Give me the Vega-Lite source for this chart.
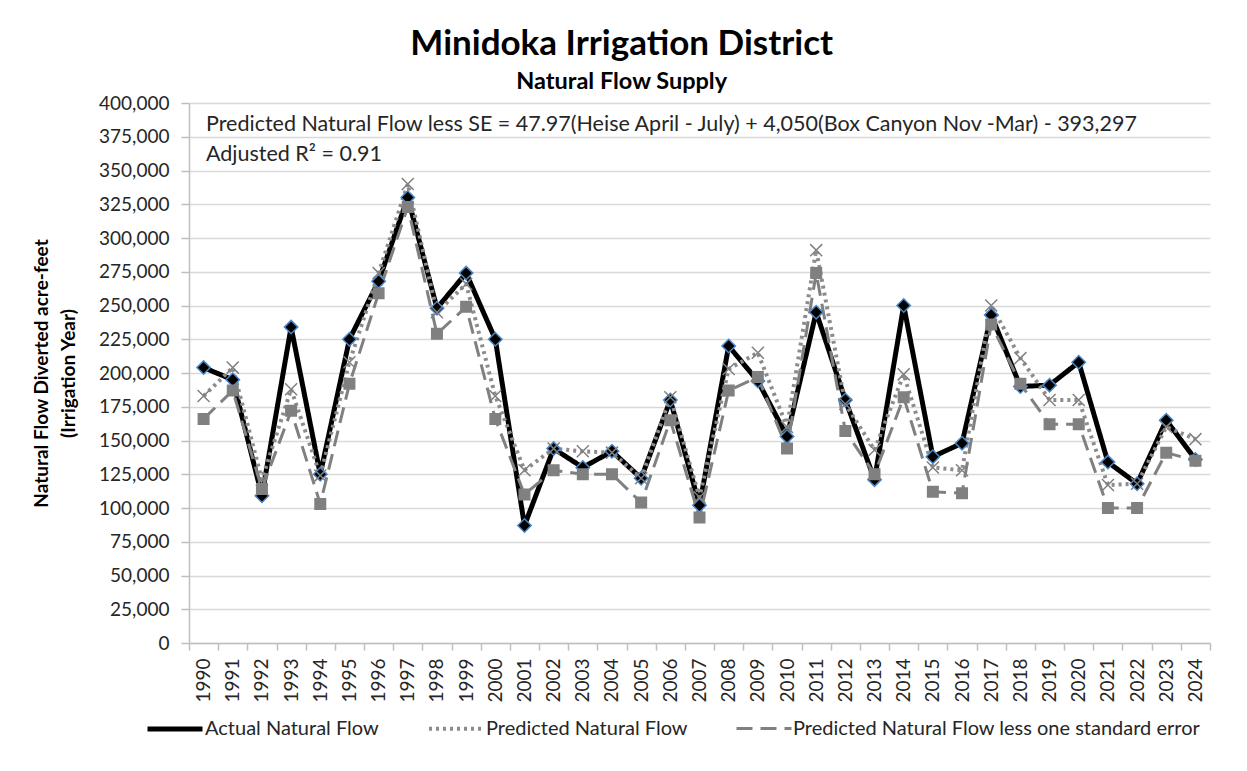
{
  "$schema": "https://vega.github.io/schema/vega-lite/v6.json",
  "width": 1247,
  "height": 771,
  "autosize": {"type": "fit", "contains": "padding"},
  "padding": {"left": 32, "top": 26, "right": 36, "bottom": 68},
  "background": "white",
  "config": {
    "font": "Lato",
    "view": {"stroke": null},
    "axis": {"labelFont": "Lato", "titleFont": "Lato"},
    "legend": {"labelFont": "Lato"}
  },
  "title": {
    "text": "Minidoka Irrigation District",
    "subtitle": "Natural Flow Supply",
    "anchor": "middle",
    "frame": "bounds",
    "font": "Lato",
    "fontSize": 35,
    "fontWeight": "bold",
    "color": "#000000",
    "subtitleFont": "Lato",
    "subtitleFontSize": 23.5,
    "subtitleFontWeight": "bold",
    "subtitleColor": "#000000",
    "subtitlePadding": 8,
    "offset": 1
  },
  "datasets": {
    "flow": [
      {"year": 1990, "series": "Actual Natural Flow", "value": 204000},
      {"year": 1991, "series": "Actual Natural Flow", "value": 195000},
      {"year": 1992, "series": "Actual Natural Flow", "value": 109000},
      {"year": 1993, "series": "Actual Natural Flow", "value": 234000},
      {"year": 1994, "series": "Actual Natural Flow", "value": 125000},
      {"year": 1995, "series": "Actual Natural Flow", "value": 225000},
      {"year": 1996, "series": "Actual Natural Flow", "value": 268000},
      {"year": 1997, "series": "Actual Natural Flow", "value": 330000},
      {"year": 1998, "series": "Actual Natural Flow", "value": 248000},
      {"year": 1999, "series": "Actual Natural Flow", "value": 274000},
      {"year": 2000, "series": "Actual Natural Flow", "value": 225000},
      {"year": 2001, "series": "Actual Natural Flow", "value": 87000},
      {"year": 2002, "series": "Actual Natural Flow", "value": 144000},
      {"year": 2003, "series": "Actual Natural Flow", "value": 130000},
      {"year": 2004, "series": "Actual Natural Flow", "value": 142000},
      {"year": 2005, "series": "Actual Natural Flow", "value": 122000},
      {"year": 2006, "series": "Actual Natural Flow", "value": 180000},
      {"year": 2007, "series": "Actual Natural Flow", "value": 102000},
      {"year": 2008, "series": "Actual Natural Flow", "value": 220000},
      {"year": 2009, "series": "Actual Natural Flow", "value": 194000},
      {"year": 2010, "series": "Actual Natural Flow", "value": 153000},
      {"year": 2011, "series": "Actual Natural Flow", "value": 245000},
      {"year": 2012, "series": "Actual Natural Flow", "value": 180000},
      {"year": 2013, "series": "Actual Natural Flow", "value": 121000},
      {"year": 2014, "series": "Actual Natural Flow", "value": 250000},
      {"year": 2015, "series": "Actual Natural Flow", "value": 138000},
      {"year": 2016, "series": "Actual Natural Flow", "value": 148000},
      {"year": 2017, "series": "Actual Natural Flow", "value": 243000},
      {"year": 2018, "series": "Actual Natural Flow", "value": 190000},
      {"year": 2019, "series": "Actual Natural Flow", "value": 191000},
      {"year": 2020, "series": "Actual Natural Flow", "value": 208000},
      {"year": 2021, "series": "Actual Natural Flow", "value": 134000},
      {"year": 2022, "series": "Actual Natural Flow", "value": 118000},
      {"year": 2023, "series": "Actual Natural Flow", "value": 165000},
      {"year": 2024, "series": "Actual Natural Flow", "value": 136000},
      {"year": 1990, "series": "Predicted Natural Flow", "value": 183000},
      {"year": 1991, "series": "Predicted Natural Flow", "value": 204000},
      {"year": 1992, "series": "Predicted Natural Flow", "value": 121000},
      {"year": 1993, "series": "Predicted Natural Flow", "value": 188000},
      {"year": 1994, "series": "Predicted Natural Flow", "value": 124000},
      {"year": 1995, "series": "Predicted Natural Flow", "value": 208000},
      {"year": 1996, "series": "Predicted Natural Flow", "value": 274000},
      {"year": 1997, "series": "Predicted Natural Flow", "value": 340000},
      {"year": 1998, "series": "Predicted Natural Flow", "value": 245000},
      {"year": 1999, "series": "Predicted Natural Flow", "value": 266000},
      {"year": 2000, "series": "Predicted Natural Flow", "value": 183000},
      {"year": 2001, "series": "Predicted Natural Flow", "value": 128000},
      {"year": 2002, "series": "Predicted Natural Flow", "value": 144000},
      {"year": 2003, "series": "Predicted Natural Flow", "value": 142000},
      {"year": 2004, "series": "Predicted Natural Flow", "value": 141000},
      {"year": 2005, "series": "Predicted Natural Flow", "value": 122000},
      {"year": 2006, "series": "Predicted Natural Flow", "value": 182000},
      {"year": 2007, "series": "Predicted Natural Flow", "value": 108000},
      {"year": 2008, "series": "Predicted Natural Flow", "value": 203000},
      {"year": 2009, "series": "Predicted Natural Flow", "value": 215000},
      {"year": 2010, "series": "Predicted Natural Flow", "value": 160000},
      {"year": 2011, "series": "Predicted Natural Flow", "value": 291000},
      {"year": 2012, "series": "Predicted Natural Flow", "value": 177000},
      {"year": 2013, "series": "Predicted Natural Flow", "value": 143000},
      {"year": 2014, "series": "Predicted Natural Flow", "value": 199000},
      {"year": 2015, "series": "Predicted Natural Flow", "value": 130000},
      {"year": 2016, "series": "Predicted Natural Flow", "value": 128000},
      {"year": 2017, "series": "Predicted Natural Flow", "value": 250000},
      {"year": 2018, "series": "Predicted Natural Flow", "value": 211000},
      {"year": 2019, "series": "Predicted Natural Flow", "value": 180000},
      {"year": 2020, "series": "Predicted Natural Flow", "value": 180000},
      {"year": 2021, "series": "Predicted Natural Flow", "value": 117000},
      {"year": 2022, "series": "Predicted Natural Flow", "value": 118000},
      {"year": 2023, "series": "Predicted Natural Flow", "value": 160000},
      {"year": 2024, "series": "Predicted Natural Flow", "value": 151000},
      {"year": 1990, "series": "Predicted Natural Flow less one standard error", "value": 166000},
      {"year": 1991, "series": "Predicted Natural Flow less one standard error", "value": 187000},
      {"year": 1992, "series": "Predicted Natural Flow less one standard error", "value": 114000},
      {"year": 1993, "series": "Predicted Natural Flow less one standard error", "value": 172000},
      {"year": 1994, "series": "Predicted Natural Flow less one standard error", "value": 103000},
      {"year": 1995, "series": "Predicted Natural Flow less one standard error", "value": 192000},
      {"year": 1996, "series": "Predicted Natural Flow less one standard error", "value": 259000},
      {"year": 1997, "series": "Predicted Natural Flow less one standard error", "value": 323000},
      {"year": 1998, "series": "Predicted Natural Flow less one standard error", "value": 229000},
      {"year": 1999, "series": "Predicted Natural Flow less one standard error", "value": 249000},
      {"year": 2000, "series": "Predicted Natural Flow less one standard error", "value": 166000},
      {"year": 2001, "series": "Predicted Natural Flow less one standard error", "value": 110000},
      {"year": 2002, "series": "Predicted Natural Flow less one standard error", "value": 128000},
      {"year": 2003, "series": "Predicted Natural Flow less one standard error", "value": 125000},
      {"year": 2004, "series": "Predicted Natural Flow less one standard error", "value": 125000},
      {"year": 2005, "series": "Predicted Natural Flow less one standard error", "value": 104000},
      {"year": 2006, "series": "Predicted Natural Flow less one standard error", "value": 165000},
      {"year": 2007, "series": "Predicted Natural Flow less one standard error", "value": 93000},
      {"year": 2008, "series": "Predicted Natural Flow less one standard error", "value": 187000},
      {"year": 2009, "series": "Predicted Natural Flow less one standard error", "value": 197000},
      {"year": 2010, "series": "Predicted Natural Flow less one standard error", "value": 144000},
      {"year": 2011, "series": "Predicted Natural Flow less one standard error", "value": 274000},
      {"year": 2012, "series": "Predicted Natural Flow less one standard error", "value": 157000},
      {"year": 2013, "series": "Predicted Natural Flow less one standard error", "value": 125000},
      {"year": 2014, "series": "Predicted Natural Flow less one standard error", "value": 182000},
      {"year": 2015, "series": "Predicted Natural Flow less one standard error", "value": 112000},
      {"year": 2016, "series": "Predicted Natural Flow less one standard error", "value": 111000},
      {"year": 2017, "series": "Predicted Natural Flow less one standard error", "value": 236000},
      {"year": 2018, "series": "Predicted Natural Flow less one standard error", "value": 192000},
      {"year": 2019, "series": "Predicted Natural Flow less one standard error", "value": 162000},
      {"year": 2020, "series": "Predicted Natural Flow less one standard error", "value": 162000},
      {"year": 2021, "series": "Predicted Natural Flow less one standard error", "value": 100000},
      {"year": 2022, "series": "Predicted Natural Flow less one standard error", "value": 100000},
      {"year": 2023, "series": "Predicted Natural Flow less one standard error", "value": 141000},
      {"year": 2024, "series": "Predicted Natural Flow less one standard error", "value": 135000}
    ],
    "notes": [
      {"line": "Predicted Natural Flow less SE = 47.97(Heise April - July) + 4,050(Box Canyon Nov -Mar) - 393,297", "year": 1990, "value": 383500},
      {"line": "Adjusted R² = 0.91", "year": 1990, "value": 361300}
    ]
  },
  "encoding": {
    "x": {
      "field": "year",
      "type": "ordinal",
      "bandPosition": 0.5,
      "scale": {"type": "band", "paddingInner": 0, "paddingOuter": 0},
      "axis": {
        "title": null,
        "labelAngle": -90,
        "labelFontSize": 19,
        "labelColor": "#262626",
        "labelPadding": 8,
        "tickBand": "extent",
        "tickSize": 7,
        "tickColor": "#bfbfbf",
        "tickWidth": 1.5,
        "domainColor": "#bfbfbf",
        "domainWidth": 1.5,
        "grid": false
      }
    },
    "y": {
      "field": "value",
      "type": "quantitative",
      "scale": {"domain": [0, 400000], "nice": false},
      "axis": {
        "title": ["Natural Flow Diverted acre-feet", "(Irrigation Year)"],
        "titleFontSize": 19,
        "titleFontWeight": "bold",
        "titleColor": "#000000",
        "titleLineHeight": 27,
        "titlePadding": 20,
        "values": [0, 25000, 50000, 75000, 100000, 125000, 150000, 175000, 200000, 225000, 250000, 275000, 300000, 325000, 350000, 375000, 400000],
        "format": ",.0f",
        "labelFontSize": 19,
        "labelColor": "#262626",
        "labelPadding": 12,
        "tickSize": 8,
        "tickColor": "#bfbfbf",
        "tickWidth": 1.5,
        "domainColor": "#bfbfbf",
        "domainWidth": 1.5,
        "gridColor": "#d9d9d9",
        "gridWidth": 1.5
      }
    }
  },
  "layer": [
    {
      "data": {"name": "flow"},
      "mark": {"type": "line", "strokeJoin": "round"},
      "encoding": {
        "color": {
          "field": "series",
          "type": "nominal",
          "scale": {
            "domain": ["Actual Natural Flow", "Predicted Natural Flow", "Predicted Natural Flow less one standard error"],
            "range": ["#000000", "#8c8c8c", "#808080"]
          },
          "legend": {
            "title": null,
            "orient": "none",
            "legendX": -44,
            "legendY": 596,
            "direction": "horizontal",
            "symbolType": "stroke",
            "symbolSize": 3025,
            "labelFontSize": 20,
            "labelColor": "#262626",
            "labelLimit": 0,
            "columnPadding": 42,
            "labelOffset": 0
          }
        },
        "strokeDash": {
          "field": "series",
          "type": "nominal",
          "scale": {
            "domain": ["Actual Natural Flow", "Predicted Natural Flow", "Predicted Natural Flow less one standard error"],
            "range": [[1, 0], [3, 4], [16, 8]]
          },
          "legend": {"title": null}
        },
        "strokeWidth": {
          "field": "series",
          "type": "nominal",
          "scale": {
            "domain": ["Actual Natural Flow", "Predicted Natural Flow", "Predicted Natural Flow less one standard error"],
            "range": [5, 3, 6]
          },
          "legend": {"title": null}
        }
      }
    },
    {
      "data": {"name": "flow"},
      "mark": {"type": "point", "filled": true, "opacity": 1, "strokeWidth": 1.5},
      "encoding": {
        "shape": {
          "field": "series",
          "type": "nominal",
          "scale": {
            "domain": ["Actual Natural Flow", "Predicted Natural Flow", "Predicted Natural Flow less one standard error"],
            "range": ["diamond", "M-1,-1L1,1M-1,1L1,-1", "square"]
          },
          "legend": null
        },
        "fill": {
          "field": "series",
          "type": "nominal",
          "scale": {
            "domain": ["Actual Natural Flow", "Predicted Natural Flow", "Predicted Natural Flow less one standard error"],
            "range": ["#000000", "#808080", "#808080"]
          },
          "legend": null
        },
        "stroke": {
          "field": "series",
          "type": "nominal",
          "scale": {
            "domain": ["Actual Natural Flow", "Predicted Natural Flow", "Predicted Natural Flow less one standard error"],
            "range": ["#4a86c8", "#808080", "#808080"]
          },
          "legend": null
        },
        "size": {
          "field": "series",
          "type": "nominal",
          "scale": {
            "domain": ["Actual Natural Flow", "Predicted Natural Flow", "Predicted Natural Flow less one standard error"],
            "range": [180, 110, 120]
          },
          "legend": null
        }
      }
    },
    {
      "data": {"name": "notes"},
      "mark": {"type": "text", "align": "left", "baseline": "middle", "dx": 17, "fontSize": 21.5, "font": "Lato", "color": "#262626"},
      "encoding": {
        "x": {"field": "year", "type": "ordinal", "bandPosition": 0},
        "y": {"field": "value", "type": "quantitative"},
        "text": {"field": "line"}
      }
    }
  ],
  "resolve": {
    "legend": {"shape": "independent", "fill": "independent", "stroke": "independent", "size": "independent"}
  }
}
